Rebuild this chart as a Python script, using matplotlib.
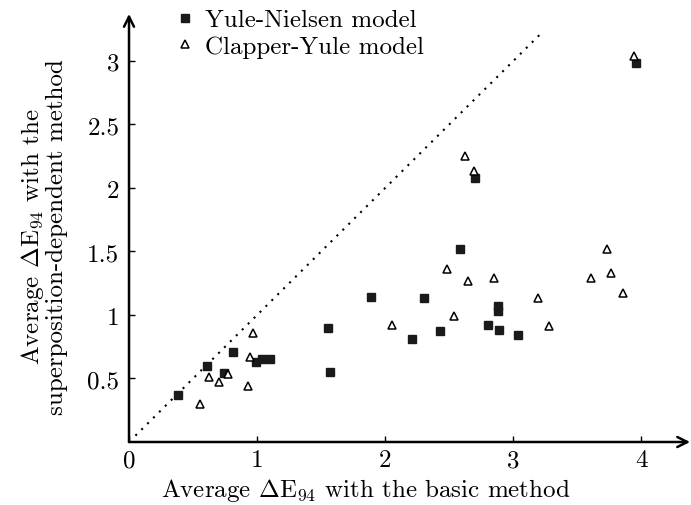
import numpy as np
import matplotlib
matplotlib.use('Agg')
import matplotlib.pyplot as plt

plt.rcParams['font.family'] = 'serif'
plt.rcParams['font.serif'] = ['cmr10']
plt.rcParams['mathtext.fontset'] = 'cm'
plt.rcParams['axes.formatter.use_mathtext'] = True

# Yule-Nielsen model (filled squares)
yn_x = [0.38, 0.61, 0.81, 0.745, 0.99, 1.04, 1.10, 1.55, 1.57,
        1.89, 2.30, 2.21, 2.43, 2.80, 2.88, 2.88, 2.89, 3.04, 2.58, 2.70, 3.96]
yn_y = [0.37, 0.60, 0.71, 0.54, 0.63, 0.65, 0.65, 0.90, 0.55,
        1.14, 1.13, 0.81, 0.87, 0.92, 1.07, 1.03, 0.88, 0.84, 1.52, 2.08, 2.98]

# Clapper-Yule model (open triangles)
cy_x = [0.555, 0.625, 0.70, 0.77, 0.93, 0.945, 0.97,
        2.05, 2.48, 2.54, 2.65, 2.85, 3.19, 3.28, 3.61, 3.73, 3.76, 3.86,
        2.62, 2.69, 3.94]
cy_y = [0.30, 0.51, 0.475, 0.535, 0.44, 0.67, 0.86,
        0.92, 1.36, 0.99, 1.27, 1.29, 1.13, 0.91, 1.29, 1.52, 1.33, 1.17,
        2.25, 2.13, 3.04]

diag = [0.05, 3.22]
x_ticks = [0, 1, 2, 3, 4]
y_ticks = [0.5, 1, 1.5, 2, 2.5, 3]

fig = plt.figure(figsize=(6.91, 5.06), dpi=100)
ax = fig.add_axes([0.1867, 0.1245, 0.812, 0.846])

ax.plot(diag, diag, color='black', lw=1.5, ls=(0, (1, 3)))
ax.plot(yn_x, yn_y, 's', color='#1a1a1a', ms=5.5, label='Yule-Nielsen model')
ax.plot(cy_x, cy_y, '^', mfc='white', mec='black', mew=1.1, ms=6,
        label='Clapper-Yule model')

ax.set_xlim(0, 4.38)
ax.set_ylim(0, 3.37)
ax.set_xticks(x_ticks)
ax.set_xticklabels([str(t) for t in x_ticks])
ax.set_yticks(y_ticks)
ax.set_yticklabels(['0.5', '1', '1.5', '2', '2.5', '3'])
ax.tick_params(direction='in', length=4, width=1, labelsize=18)
ax.tick_params(axis='x', pad=5)
ax.tick_params(axis='y', pad=7)

for s in ax.spines.values():
    s.set_visible(False)
ax.annotate('', xy=(1, 0), xytext=(0, 0), xycoords='axes fraction',
            arrowprops=dict(arrowstyle='->', lw=1.8, color='black',
                            mutation_scale=18, shrinkA=0, shrinkB=0))
ax.annotate('', xy=(0, 1), xytext=(0, 0), xycoords='axes fraction',
            arrowprops=dict(arrowstyle='->', lw=1.8, color='black',
                            mutation_scale=18, shrinkA=0, shrinkB=0))

ax.set_xlabel(r'Average $\Delta\mathrm{E}_{94}$ with the basic method', fontsize=18)
ax.set_ylabel('Average $\\Delta\\mathrm{E}_{94}$ with the\nsuperposition-dependent method',
              fontsize=18, linespacing=1.0)
ax.xaxis.set_label_coords(0.4225, -0.08)
ax.yaxis.set_label_coords(-0.109, 0.481)

ax.legend(loc='upper left', bbox_to_anchor=(0.06, 1.035), frameon=False,
          fontsize=18, handletextpad=0.3, borderaxespad=0, labelspacing=0.15,
          handlelength=1.0)

fig.savefig('out.png', dpi=100)
